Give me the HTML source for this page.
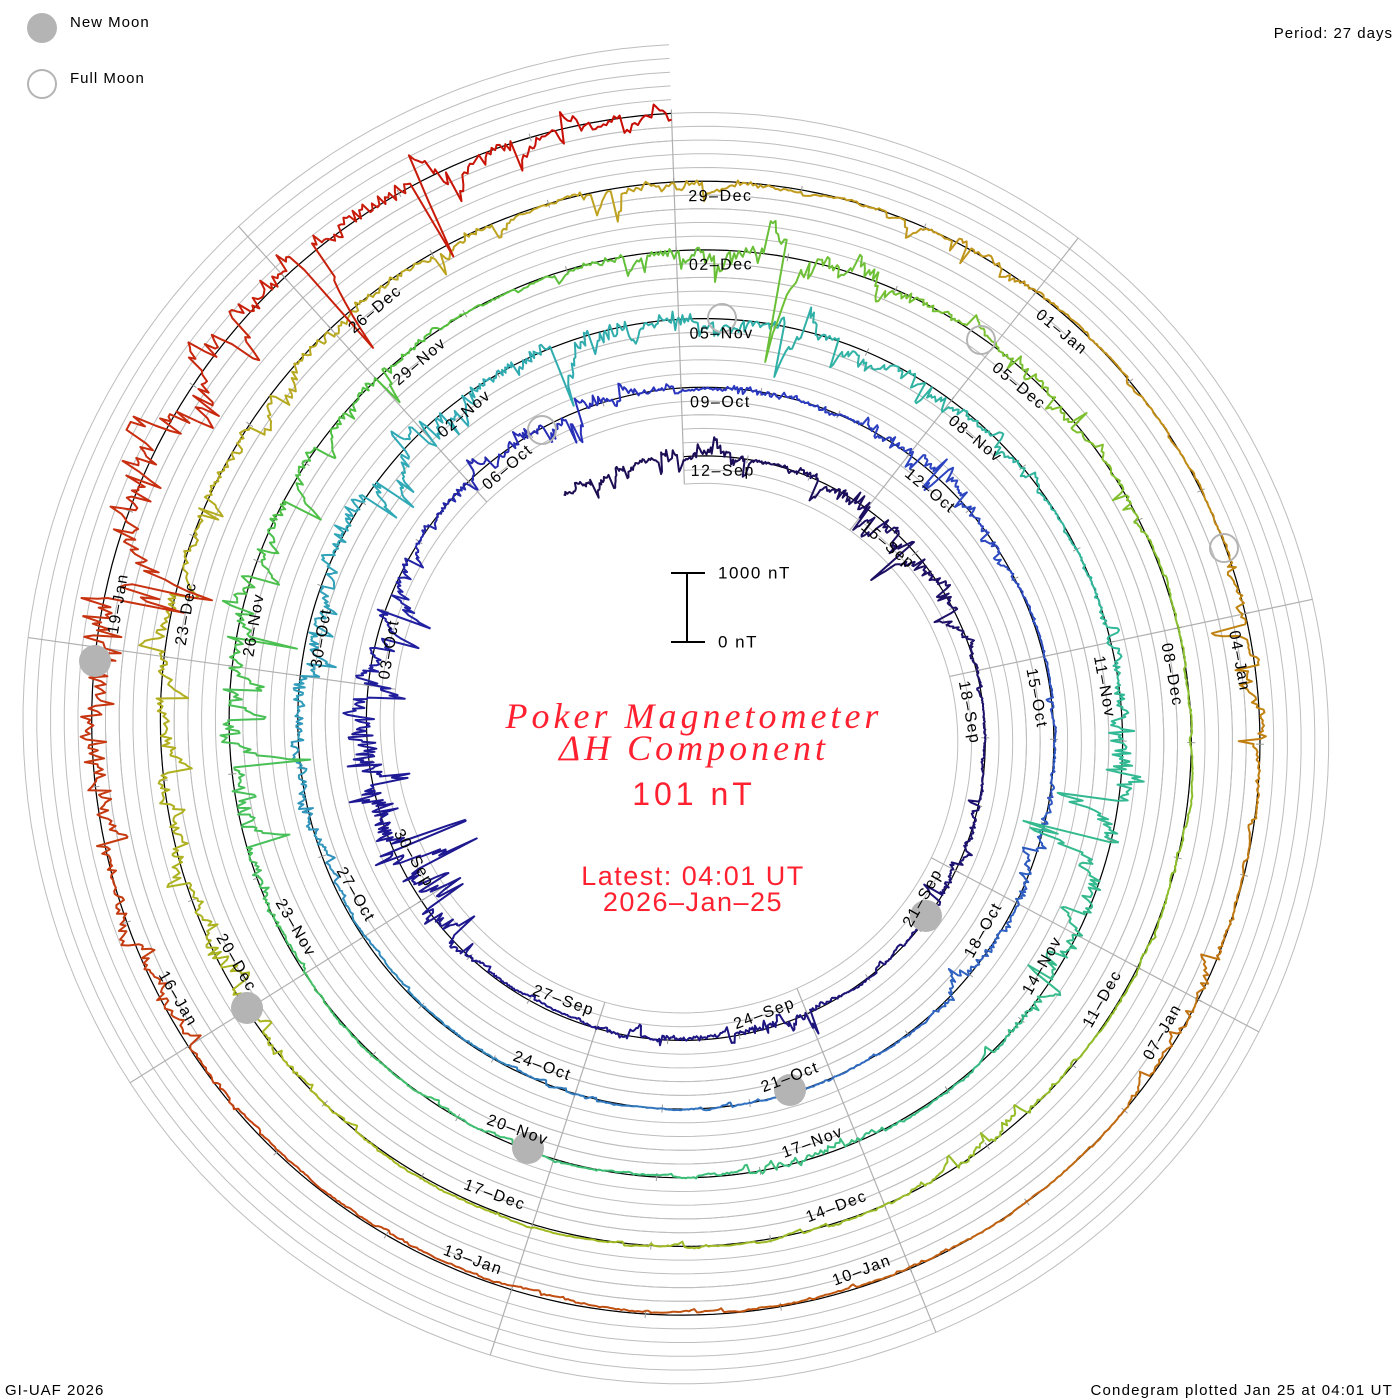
<!DOCTYPE html>
<html><head><meta charset="utf-8">
<style>
html,body{margin:0;padding:0;background:#fff;}
svg{display:block;}
.l{font-family:"Liberation Sans",sans-serif;font-size:16px;letter-spacing:1.5px;fill:#000;dominant-baseline:central;}
.s{font-family:"Liberation Sans",sans-serif;font-size:15px;letter-spacing:1px;fill:#000;}
.t{font-family:"Liberation Serif",serif;font-style:italic;font-size:36px;letter-spacing:4px;fill:#ff2030;}
.r{font-family:"Liberation Sans",sans-serif;fill:#ff2030;}
</style></head>
<body>
<svg id="sv" width="1400" height="1400" viewBox="0 0 1400 1400" xmlns="http://www.w3.org/2000/svg">
<rect width="1400" height="1400" fill="#fff"/>
<g id="gray" fill="none" stroke="#bdbdbd" stroke-width="1"></g>
<g id="rad" stroke="#b0b0b0" stroke-width="1.2"></g>
<g id="blk" fill="none" stroke="#000" stroke-width="1.2"></g>
<g id="tick" stroke="#999" stroke-width="1"></g>
<g id="dat" fill="none" stroke-width="2" stroke-linejoin="round"></g>

<g fill="#b4b4b4">
<circle cx="95" cy="661" r="16"/><circle cx="247" cy="1008" r="16"/><circle cx="528" cy="1148" r="16"/><circle cx="790" cy="1090" r="16"/><circle cx="926" cy="916" r="16"/>
</g>
<g fill="none" stroke="#b4b4b4" stroke-width="2">
<circle cx="1224" cy="548" r="14"/><circle cx="981" cy="340" r="14"/><circle cx="722" cy="318" r="14"/><circle cx="542" cy="430" r="14"/>
</g>

<text class="l" transform="rotate(-0.5 693 731)" x="693" y="471.5">12–Sep</text>
<text class="l" transform="rotate(39.5 693 731)" x="693" y="463.9">15–Sep</text>
<text class="l" transform="rotate(79.5 693 731)" x="693" y="456.2">18–Sep</text>
<text class="l" text-anchor="end" transform="rotate(-60.5 693 731)" x="693" y="1013.4">21–Sep</text>
<text class="l" text-anchor="end" transform="rotate(-20.5 693 731)" x="693" y="1021.0">24–Sep</text>
<text class="l" text-anchor="end" transform="rotate(19.5 693 731)" x="693" y="1028.7">27–Sep</text>
<text class="l" text-anchor="end" transform="rotate(59.5 693 731)" x="693" y="1036.3">30–Sep</text>
<text class="l" transform="rotate(279.5 693 731)" x="693" y="418.1">03–Oct</text>
<text class="l" transform="rotate(319.5 693 731)" x="693" y="410.4">06–Oct</text>
<text class="l" transform="rotate(-0.5 693 731)" x="693" y="402.8">09–Oct</text>
<text class="l" transform="rotate(39.5 693 731)" x="693" y="395.2">12–Oct</text>
<text class="l" transform="rotate(79.5 693 731)" x="693" y="387.5">15–Oct</text>
<text class="l" text-anchor="end" transform="rotate(-60.5 693 731)" x="693" y="1082.1">18–Oct</text>
<text class="l" text-anchor="end" transform="rotate(-20.5 693 731)" x="693" y="1089.7">21–Oct</text>
<text class="l" text-anchor="end" transform="rotate(19.5 693 731)" x="693" y="1097.4">24–Oct</text>
<text class="l" text-anchor="end" transform="rotate(59.5 693 731)" x="693" y="1105.0">27–Oct</text>
<text class="l" transform="rotate(279.5 693 731)" x="693" y="349.4">30–Oct</text>
<text class="l" transform="rotate(319.5 693 731)" x="693" y="341.7">02–Nov</text>
<text class="l" transform="rotate(-0.5 693 731)" x="693" y="334.1">05–Nov</text>
<text class="l" transform="rotate(39.5 693 731)" x="693" y="326.5">08–Nov</text>
<text class="l" transform="rotate(79.5 693 731)" x="693" y="318.8">11–Nov</text>
<text class="l" text-anchor="end" transform="rotate(-60.5 693 731)" x="693" y="1150.8">14–Nov</text>
<text class="l" text-anchor="end" transform="rotate(-20.5 693 731)" x="693" y="1158.4">17–Nov</text>
<text class="l" text-anchor="end" transform="rotate(19.5 693 731)" x="693" y="1166.1">20–Nov</text>
<text class="l" text-anchor="end" transform="rotate(59.5 693 731)" x="693" y="1173.7">23–Nov</text>
<text class="l" transform="rotate(279.5 693 731)" x="693" y="280.7">26–Nov</text>
<text class="l" transform="rotate(319.5 693 731)" x="693" y="273.0">29–Nov</text>
<text class="l" transform="rotate(-0.5 693 731)" x="693" y="265.4">02–Dec</text>
<text class="l" transform="rotate(39.5 693 731)" x="693" y="257.8">05–Dec</text>
<text class="l" transform="rotate(79.5 693 731)" x="693" y="250.1">08–Dec</text>
<text class="l" text-anchor="end" transform="rotate(-60.5 693 731)" x="693" y="1219.5">11–Dec</text>
<text class="l" text-anchor="end" transform="rotate(-20.5 693 731)" x="693" y="1227.1">14–Dec</text>
<text class="l" text-anchor="end" transform="rotate(19.5 693 731)" x="693" y="1234.8">17–Dec</text>
<text class="l" text-anchor="end" transform="rotate(59.5 693 731)" x="693" y="1242.4">20–Dec</text>
<text class="l" transform="rotate(279.5 693 731)" x="693" y="212.0">23–Dec</text>
<text class="l" transform="rotate(319.5 693 731)" x="693" y="204.3">26–Dec</text>
<text class="l" transform="rotate(-0.5 693 731)" x="693" y="196.7">29–Dec</text>
<text class="l" transform="rotate(39.5 693 731)" x="693" y="189.1">01–Jan</text>
<text class="l" transform="rotate(79.5 693 731)" x="693" y="181.4">04–Jan</text>
<text class="l" text-anchor="end" transform="rotate(-60.5 693 731)" x="693" y="1288.2">07–Jan</text>
<text class="l" text-anchor="end" transform="rotate(-20.5 693 731)" x="693" y="1295.8">10–Jan</text>
<text class="l" text-anchor="end" transform="rotate(19.5 693 731)" x="693" y="1303.5">13–Jan</text>
<text class="l" text-anchor="end" transform="rotate(59.5 693 731)" x="693" y="1311.1">16–Jan</text>
<text class="l" transform="rotate(279.5 693 731)" x="693" y="143.3">19–Jan</text>

<circle cx="42" cy="28" r="15" fill="#b4b4b4"/>
<circle cx="42" cy="84" r="14" fill="none" stroke="#b4b4b4" stroke-width="2"/>
<text class="s" x="70" y="27">New Moon</text>
<text class="s" x="70" y="83">Full Moon</text>
<text class="s" x="1393" y="38" text-anchor="end">Period: 27 days</text>
<text class="s" x="5" y="1395">GI-UAF 2026</text>
<text class="s" x="1393" y="1395" text-anchor="end" style="letter-spacing:1.2px">Condegram plotted Jan 25 at 04:01 UT</text>

<g stroke="#000" stroke-width="2">
<line x1="687" y1="573" x2="687" y2="642"/>
<line x1="671" y1="573" x2="705" y2="573"/>
<line x1="671" y1="642" x2="705" y2="642"/>
</g>
<text class="l" x="718" y="573" style="font-size:17px">1000 nT</text>
<text class="l" x="718" y="642" style="font-size:17px">0 nT</text>

<text class="t" x="694" y="728" text-anchor="middle">Poker Magnetometer</text>
<text class="t" x="694" y="760" text-anchor="middle">ΔH Component</text>
<text class="r" x="694" y="805" text-anchor="middle" style="font-size:32px;letter-spacing:4px">101 nT</text>
<text class="r" x="693" y="885" text-anchor="middle" style="font-size:27px;letter-spacing:1.5px">Latest: 04:01 UT</text>
<text class="r" x="693" y="911" text-anchor="middle" style="font-size:27px;letter-spacing:1.5px">2026–Jan–25</text>
</svg>
<script>
(function(){
var cx=693,cy=731,R0=274.5,P=68.7,A0=-2,D=Math.PI/180;
function pt(th,r){var a=(th+A0)*D;return [cx+r*Math.sin(a),cy-r*Math.cos(a)];}
function f(p){return p[0].toFixed(1)+","+p[1].toFixed(1);}
var NS="http://www.w3.org/2000/svg";
function add(g,tag,attrs){var e=document.createElementNS(NS,tag);for(var k in attrs)e.setAttribute(k,attrs[k]);document.getElementById(g).appendChild(e);}
var base=R0-2*P/5;
for(var j=0;j<8;j++){var d="";for(var th=0;th<=1800;th+=2){var p=pt(th,base+j*P/5+P*th/360);d+=(th?"L":"M")+f(p);}add("gray","path",{d:d});}
for(var k=0;k<9;k++){var th=40*k;var a=pt(th,base+P*th/360),b=pt(th,base+7*P/5+4*P+P*th/360);add("rad","line",{x1:a[0],y1:a[1],x2:b[0],y2:b[1]});}
var d="";for(var th=0;th<=1800;th+=1.5){d+=(th?"L":"M")+f(pt(th,R0+P*th/360));}add("blk","path",{d:d});
for(var k=0;k<=135;k++){var th=k*360/27,r=R0+P*th/360;var a=pt(th,r-4),b=pt(th,r+4);add("tick","line",{x1:a[0],y1:a[1],x2:b[0],y2:b[1]});}
var s=987654321;function rnd(){s|=0;s=s+0x6D2B79F5|0;var t=Math.imul(s^s>>>15,1|s);t=t+Math.imul(t^t>>>7,61|t)^t;return((t^t>>>14)>>>0)/4294967296;}
function gauss(){var u=rnd()||1e-9,v=rnd();return Math.sqrt(-2*Math.log(u))*Math.cos(2*Math.PI*v);}
var ev=[[-1,1,15],[0.5,0.6,25],[3,1,40],[4.5,1,25],[9,1,12],[12.3,0.5,45],[14,1,10],[18.5,1.2,60],[20,1.2,55],[22,1,25],[24.5,1,25],[26,0.8,20],[28,0.6,20],[30.5,1,30],[35.5,0.8,25],[37,0.5,15],[46.5,0.5,15],[48,1,30],[50.5,1.5,45],[53,1,30],[55,1,30],[57,1,25],[61.5,1.2,55],[63,1,30],[66.5,0.5,25],[74,1,30],[75.5,1.5,45],[78,0.6,15],[82,1.3,55],[85,0.8,15],[92,0.5,15],[100,1.2,40],[102,1,30],[104,1,20],[106,1,15],[108,0.7,20],[110.5,0.6,20],[114.5,0.6,30],[117,0.5,25],[126.5,0.5,20],[129,1.5,80],[131,1.5,65],[133,1,25],[134.5,1,15]];
var stops=[[-2,[28,12,80]],[20,[30,26,150]],[27,[42,52,192]],[40,[48,112,192]],[50,[48,168,184]],[60,[48,184,152]],[70,[64,192,112]],[78,[80,192,64]],[85,[128,192,48]],[98,[168,184,32]],[108,[192,160,32]],[115,[192,128,16]],[122,[192,80,16]],[130,[200,48,16]],[136,[200,0,0]]];
function col(t){for(var i=0;i<stops.length-1;i++){if(t<=stops[i+1][0]){var a=stops[i],b=stops[i+1],u=(t-a[0])/(b[0]-a[0]);u=Math.max(0,Math.min(1,u));var c=[0,1,2].map(function(q){return Math.round(a[1][q]+(b[1][q]-a[1][q])*u);});return "rgb("+c.join(",")+")";}}return "rgb(200,0,0)";}
var lvl=0,slow=0,pts=[],ts=[];
for(var t=-2;t<=135.001;t+=0.02){
 var a=3;for(var i=0;i<ev.length;i++){var z=(t-ev[i][0])/ev[i][1];a+=ev[i][2]*Math.exp(-z*z);}
 if(rnd()<0.1){lvl=(rnd()<0.75?-1:0.5)*Math.abs(gauss())*a*0.7;}else lvl*=0.82;
 slow=0.99*slow+gauss()*0.2;
 var off=lvl+gauss()*a*0.1+slow;off=Math.max(-180,Math.min(35,off));
 var th=t*360/27;pts.push(pt(th,R0+P*th/360+off));ts.push(t);
}
for(var i=0;i<pts.length-1;i+=40){var d="M"+f(pts[i]);var e=Math.min(pts.length-1,i+40);for(var q=i+1;q<=e;q++)d+="L"+f(pts[q]);add("dat","path",{d:d,stroke:col(ts[Math.floor((i+e)/2)])});}
})();
</script>
</body></html>
